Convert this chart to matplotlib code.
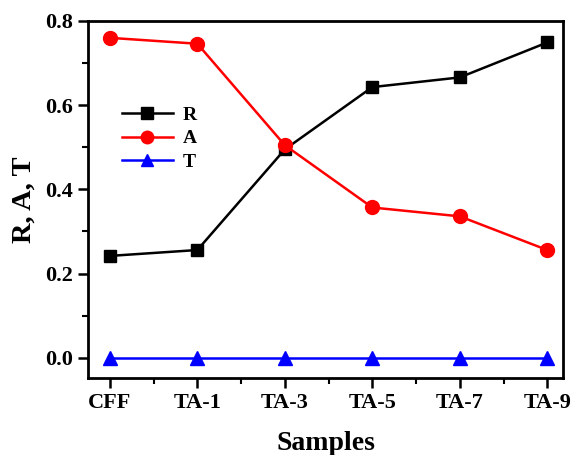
import numpy as np
import matplotlib.pyplot as plt
from matplotlib.ticker import MultipleLocator

plt.rcParams['font.family'] = 'Liberation Serif'
plt.rcParams['font.weight'] = 'bold'

samples = ['CFF', 'TA-1', 'TA-3', 'TA-5', 'TA-7', 'TA-9']
R = [0.242, 0.256, 0.495, 0.643, 0.666, 0.749]
A = [0.760, 0.746, 0.505, 0.357, 0.336, 0.256]
T = [0.0, 0.0, 0.0, 0.0, 0.0, 0.0]

x = np.arange(len(samples))

fig = plt.figure(figsize=(5.71, 4.55), dpi=100)
ax = fig.add_axes([88/571, 1-378/455, (563-88)/571, (378-21)/455])

ax.plot(x, R, color='black', marker='s', ms=9, lw=1.8, label='R')
ax.plot(x, A, color='red', marker='o', ms=10, lw=1.8, label='A')
ax.plot(x, T, color='blue', marker='^', ms=10, lw=1.8, label='T')

ax.set_xlim(-0.25, 5.18)
ax.set_ylim(-0.048, 0.8)
ax.set_xticks(x)
ax.set_xticklabels(samples)
ax.xaxis.set_minor_locator(MultipleLocator(0.5))
ax.yaxis.set_major_locator(MultipleLocator(0.2))
ax.yaxis.set_minor_locator(MultipleLocator(0.1))
ax.yaxis.set_major_formatter(plt.FormatStrFormatter('%.1f'))
ax.tick_params(which='major', direction='out', length=7, width=1.8, labelsize=16, pad=4)
ax.tick_params(which='minor', direction='out', length=4, width=1.5)
for s in ax.spines.values():
    s.set_linewidth(2)

ax.set_xlabel('Samples', fontsize=20, fontweight='bold', labelpad=13)
ax.set_ylabel('R, A, T', fontsize=20.5, fontweight='bold', labelpad=6)

ax.legend(loc='upper left', bbox_to_anchor=(0.035, 0.81), frameon=False,
          prop={'size': 14, 'weight': 'bold'}, handlelength=2.6, labelspacing=0.3,
          handletextpad=0.5, markerscale=0.9)

fig.savefig('out.png', dpi=100)
